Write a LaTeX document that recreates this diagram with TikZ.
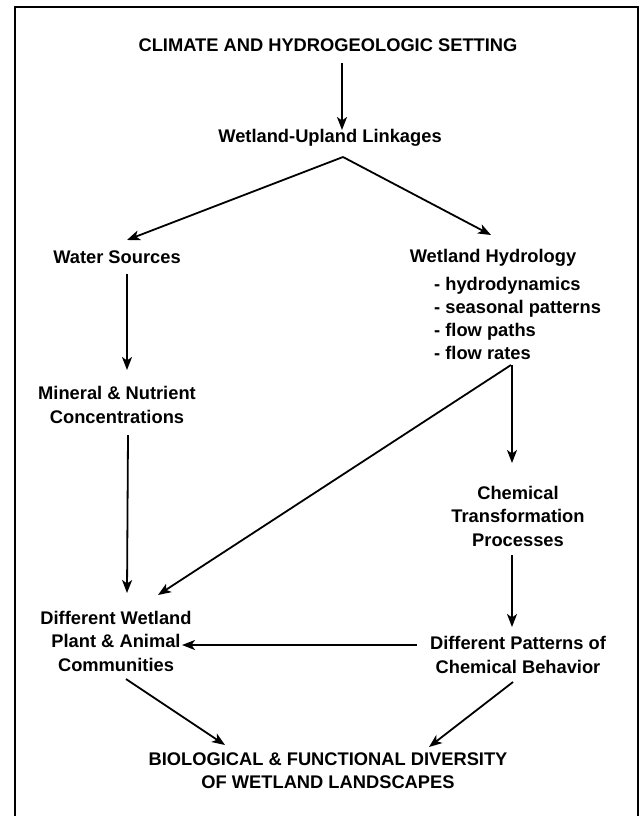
\documentclass[tikz,border=0pt]{standalone}
\usepackage{fontspec}
\setmainfont{Liberation Sans}
\usetikzlibrary{arrows.meta,calc}
\begin{document}
\begin{tikzpicture}[x=1pt,y=-1pt,
  lbl/.style={font=\bfseries\fontsize{18.3}{23.5}\selectfont, inner sep=0pt, align=center},
  lst/.style={font=\bfseries\fontsize{18.3}{23}\selectfont, inner sep=0pt, align=left},
  arr/.style={line width=1.8pt, -{Stealth[length=13pt,width=10pt,inset=3.5pt]}},
  frame/.style={line width=2.6pt}]
\useasboundingbox (0,0) rectangle (641,816);
\draw[frame] (15,818) -- (15,7) -- (638,7) -- (638,818);

\node[lbl] (climate) at (328,45) {CLIMATE AND HYDROGEOLOGIC SETTING};
\node[lbl] (link) at (330,138) {Wetland-Upland Linkages};
\node[lbl] (water) at (117,257) {Water Sources};
\node[lbl] (hydro) at (493,258) {Wetland Hydrology};
\node[lst, anchor=west] (hydrolist) at (434,318) {- hydrodynamics\\- seasonal patterns\\- flow paths\\- flow rates};
\node[lbl] (mineral) at (117,405) {Mineral \& Nutrient\\Concentrations};
\node[lbl] (chem) at (518,516) {Chemical\\Transformation\\Processes};
\node[lbl] (diffwet) at (116,641) {Different Wetland\\Plant \& Animal\\Communities};
\node[lbl] (diffpat) at (518,655) {Different Patterns of\\Chemical Behavior};
\node[lbl] (bio) at (328,770.5) {BIOLOGICAL \& FUNCTIONAL DIVERSITY\\OF WETLAND LANDSCAPES};

\draw[arr] ($(climate)+(14,18)$) -- ($(link)+(12,-8)$);
\draw[arr] ($(link)+(13,19)$) -- ($(water)+(10,-17)$);
\draw[arr] ($(link)+(13,19)$) -- ($(hydro)+(-2,-23)$);
\draw[arr] ($(water)+(10,17)$) -- ($(mineral)+(10,-35)$);
\draw[arr] ($(mineral)+(11,30)$) -- ($(diffwet)+(11,-48)$);
\draw[arr] ($(hydrolist.west)+(78,47)$) -- ($(chem)+(-6,-53)$);
\draw[arr] ($(hydrolist.west)+(77,47)$) -- ($(diffwet)+(42,-46)$);
\draw[arr] ($(chem)+(-6,39)$) -- ($(diffpat)+(-6,-28)$);
\draw[arr] ($(diffpat)+(-101,-10)$) -- ($(diffwet)+(66,4)$);
\draw[arr] ($(diffwet)+(10,38)$) -- ($(bio)+(-103,-25.5)$);
\draw[arr] ($(diffpat)+(-5,27)$) -- ($(bio)+(101,-23.5)$);
\end{tikzpicture}
\end{document}
